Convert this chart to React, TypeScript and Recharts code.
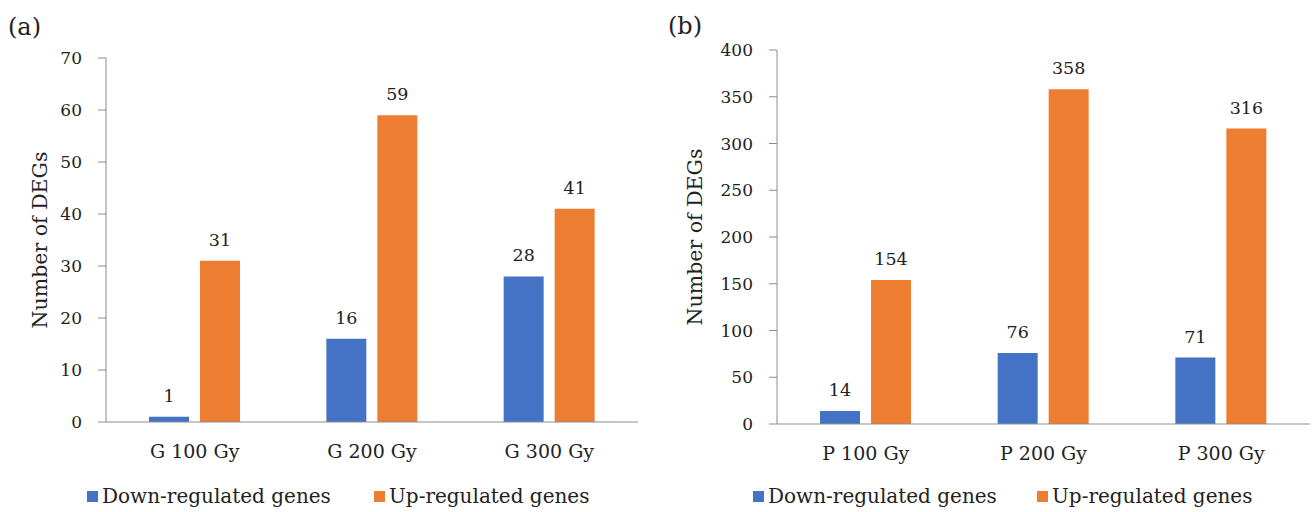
import { Bar, BarChart, LabelList, Legend, XAxis, YAxis } from "recharts"

const gCategories = ["G 100 Gy", "G 200 Gy", "G 300 Gy"]
const gDown = [1, 16, 28]
const gUp = [31, 59, 41]
const gTicks = [0, 10, 20, 30, 40, 50, 60, 70]

const pCategories = ["P 100 Gy", "P 200 Gy", "P 300 Gy"]
const pDown = [14, 76, 71]
const pUp = [154, 358, 316]
const pTicks = [0, 50, 100, 150, 200, 250, 300, 350, 400]

const seriesNames = ["Down-regulated genes", "Up-regulated genes"]

const BLUE = "#4472C4"
const ORANGE = "#ED7D31"
const AXIS = "#8c8c8c"
const INK = "#222222"
const FONT = "'DejaVu Serif', serif"

const gData = gCategories.map((name, i) => ({ name, down: gDown[i], up: gUp[i] }))
const pData = pCategories.map((name, i) => ({ name, down: pDown[i], up: pUp[i] }))

function makeLegend(itemX: number[]) {
    return () => (
        <div style={{ position: "relative", height: 0 }}>
            {seriesNames.map((label, i) => (
                <div
                    key={label}
                    style={{
                        position: "absolute",
                        left: itemX[i],
                        top: 484,
                        display: "flex",
                        alignItems: "center",
                        whiteSpace: "nowrap",
                        fontFamily: FONT,
                        fontSize: 20,
                        color: INK,
                        lineHeight: "24px",
                    }}
                >
                    <span
                        style={{
                            display: "inline-block",
                            width: 11,
                            height: 11,
                            background: i === 0 ? BLUE : ORANGE,
                            marginRight: 4,
                        }}
                    />
                    {label}
                </div>
            ))}
        </div>
    )
}

function yTitle(cx: number) {
    return (props: any) => {
        const vb = props.viewBox || {}
        const cy = vb.y + vb.height / 2
        return (
            <text
                x={cx}
                y={cy}
                transform={`rotate(-90, ${cx}, ${cy})`}
                textAnchor="middle"
                dominantBaseline="central"
                fontFamily={FONT}
                fontSize={20.5}
                fill={INK}
            >
                Number of DEGs
            </text>
        )
    }
}

interface PanelProps {
    data: { name: string; down: number; up: number }[]
    ticks: number[]
    width: number
    top: number
    baseY: number
    right: number
    axisW: number
    titleX: number
    legendX: number[]
}

function Panel({ data, ticks, width, top, baseY, right, axisW, titleX, legendX }: PanelProps) {
    const max = ticks[ticks.length - 1]
    return (
        <BarChart
            width={width}
            height={512}
            data={data}
            margin={{ top, right, left: 0, bottom: 512 - 40 - baseY }}
            barSize={40}
            barGap={11}
        >
            <XAxis
                dataKey="name"
                height={40}
                tickLine={false}
                tickSize={0}
                tickMargin={23}
                stroke={AXIS}
                tick={{ fill: INK, fontSize: 19, fontFamily: FONT }}
            />
            <YAxis
                width={axisW}
                domain={[0, max]}
                ticks={ticks}
                interval={0}
                tickSize={8}
                tickMargin={16}
                stroke={AXIS}
                tick={{ fill: INK, fontSize: 17, fontFamily: FONT }}
                label={{ content: yTitle(titleX) }}
            />
            <Legend
                content={makeLegend(legendX)}
                wrapperStyle={{ position: "absolute", left: 0, top: 0, width, height: 0 }}
            />
            <Bar dataKey="down" name={seriesNames[0]} fill={BLUE} isAnimationActive={false}>
                <LabelList dataKey="down" position="top" offset={15} fill={INK} fontSize={17.5} fontFamily={FONT} />
            </Bar>
            <Bar dataKey="up" name={seriesNames[1]} fill={ORANGE} isAnimationActive={false}>
                <LabelList dataKey="up" position="top" offset={15} fill={INK} fontSize={17.5} fontFamily={FONT} />
            </Bar>
        </BarChart>
    )
}

const panelTag = {
    position: "absolute" as const,
    fontFamily: FONT,
    fontSize: 24,
    color: INK,
    lineHeight: "28px",
}

export default function App() {
    return (
        <div style={{ position: "absolute", left: 0, top: 0, width: 1313, height: 512, background: "#fff", overflow: "hidden" }}>
            <div style={{ position: "absolute", left: 0, top: 0 }}>
                <Panel data={gData} ticks={gTicks} width={650} top={58} baseY={422} right={12} axisW={106} titleX={40} legendX={[87, 374]} />
            </div>
            <div style={{ position: "absolute", left: 650, top: 0 }}>
                <Panel data={pData} ticks={pTicks} width={663} top={50} baseY={424} right={3} axisW={127} titleX={45} legendX={[103, 387]} />
            </div>
            <div style={{ ...panelTag, left: 8, top: 13 }}>(a)</div>
            <div style={{ ...panelTag, left: 668, top: 12 }}>(b)</div>
        </div>
    )
}
